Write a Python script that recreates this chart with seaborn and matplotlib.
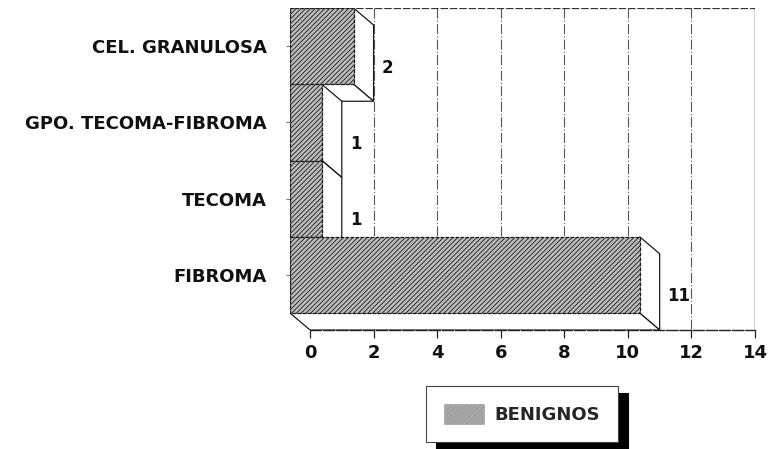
import numpy as np
import pandas as pd
import matplotlib
matplotlib.use("Agg")
import matplotlib.pyplot as plt
from matplotlib.patches import Polygon, Patch
import seaborn as sns

# Datos
categorias = ["CEL. GRANULOSA", "GPO. TECOMA-FIBROMA", "TECOMA", "FIBROMA"]
casos = [2, 1, 1, 11]
serie = "BENIGNOS"
ticks_x = [0, 2, 4, 6, 8, 10, 12, 14]

sns.set_theme(style="white")
plt.rcParams["font.family"] = ["DejaVu Sans"]
plt.rcParams["hatch.linewidth"] = 0.6
plt.rcParams["hatch.color"] = "#262626"

W, H = 770, 449
fig = plt.figure(figsize=(W / 100, H / 100), dpi=100)

# Marco del area de trazado en pixeles (pared trasera + suelo)
L, R, T, B = 290, 755, 8, 330
DX, DY = 20, 17              # profundidad de la perspectiva en pixeles
ax = fig.add_axes([L / W, 1 - B / H, (R - L) / W, (B - T) / H])

kx = (R - (L + DX)) / ticks_x[-1]            # px por unidad en x
ky = (B - (T + DY)) / len(categorias)        # px por categoria
dxd, dyd = DX / kx, DY / ky

face = "#bcbcbc"
fs = 13
df = pd.DataFrame({"tipo": categorias, "casos": casos, "grupo": serie})
sns.barplot(data=df, y="tipo", x="casos", hue="grupo", orient="h",
            palette=[face], width=1.0, dodge=False, legend=False,
            edgecolor="#1a1a1a", linewidth=0.9, linestyle=(0, (3, 1)),
            hatch="///////", ax=ax)

ax.set_xlim(-dxd, ticks_x[-1])
ax.set_ylim(len(categorias) - 0.5, -0.5 - dyd)

# Cara frontal desplazada hacia arriba-izquierda; caras laterales en blanco
bars = sorted(ax.patches, key=lambda p: p.get_y())
for i, (p, v) in enumerate(zip(bars, casos)):
    p.set_x(p.get_x() - dxd)
    p.set_y(p.get_y() - dyd)
    p.set_zorder(4 + 2 * i)
    y0, y1 = i - 0.5, i + 0.5
    side = [(v - dxd, y0 - dyd), (v, y0), (v, y1), (v - dxd, y1 - dyd)]
    bottom = [(-dxd, y1 - dyd), (v - dxd, y1 - dyd), (v, y1), (0, y1)]
    for poly in (side, bottom):
        ax.add_patch(Polygon(poly, closed=True, facecolor="white",
                             edgecolor="#1a1a1a", linewidth=0.9,
                             zorder=3 + 2 * i))
    ax.text(v + 8 / kx, i + 0.06, str(v), ha="left", va="center",
            fontsize=12, fontweight="bold", color="#111", zorder=20)

# Pared trasera: rejilla y bordes
ytop, yfloor = -0.5 - dyd, len(categorias) - 0.5
ax.vlines(ticks_x[1:-1], ytop, yfloor, colors="#555", linewidth=0.8,
          linestyles=(0, (9, 2, 1, 2)), zorder=1)
ax.plot([-dxd, ticks_x[-1]], [ytop, ytop], color="#333", lw=0.9,
        ls=(0, (6, 1.5)), zorder=2)
ax.plot([ticks_x[-1], ticks_x[-1]], [ytop, yfloor], color="#222", lw=1.0,
        zorder=2)
ax.plot([-dxd, -dxd], [ytop, yfloor - dyd], color="#333", lw=0.9, zorder=2)

for s in ("top", "right", "left"):
    ax.spines[s].set_visible(False)
ax.spines["bottom"].set_bounds(0, ticks_x[-1])
ax.spines["bottom"].set_color("#222")
ax.spines["bottom"].set_linewidth(1.0)
ax.spines["bottom"].set_linestyle((0, (8, 1.5)))

ax.set_xticks(ticks_x)
ax.set_xticklabels([str(t) for t in ticks_x], fontsize=fs, fontweight="bold")
ax.set_yticks(np.arange(len(categorias)) - dyd)
ax.set_yticklabels(categorias, fontsize=fs, fontweight="bold")
ax.tick_params(axis="x", bottom=True, direction="out", length=6, width=0.9,
               color="#222", pad=4, labelcolor="#111")
ax.tick_params(axis="y", left=True, direction="out", length=3, width=0.8,
               color="#777", pad=14, labelcolor="#111")
ax.set_xlabel("")
ax.set_ylabel("")
ax.set_facecolor("white")

# Leyenda
handle = Patch(facecolor="#a8a8a8", edgecolor="#999", hatch="///////",
               linewidth=0.4)
ax.legend(handles=[handle], labels=[serie], loc="center",
          bbox_to_anchor=(522 / W, 1 - 414 / H), bbox_transform=fig.transFigure,
          frameon=True, fancybox=False, edgecolor="#444", framealpha=1,
          shadow={"ox": 7, "oy": -5, "color": "black", "alpha": 1},
          handlelength=2.2, handleheight=1.3, borderpad=1.0, handletextpad=0.6,
          borderaxespad=0, prop={"weight": "bold", "size": 13})
ax.get_legend().get_frame().set_linewidth(0.8)

fig.savefig("out.png", dpi=100, facecolor="white")
